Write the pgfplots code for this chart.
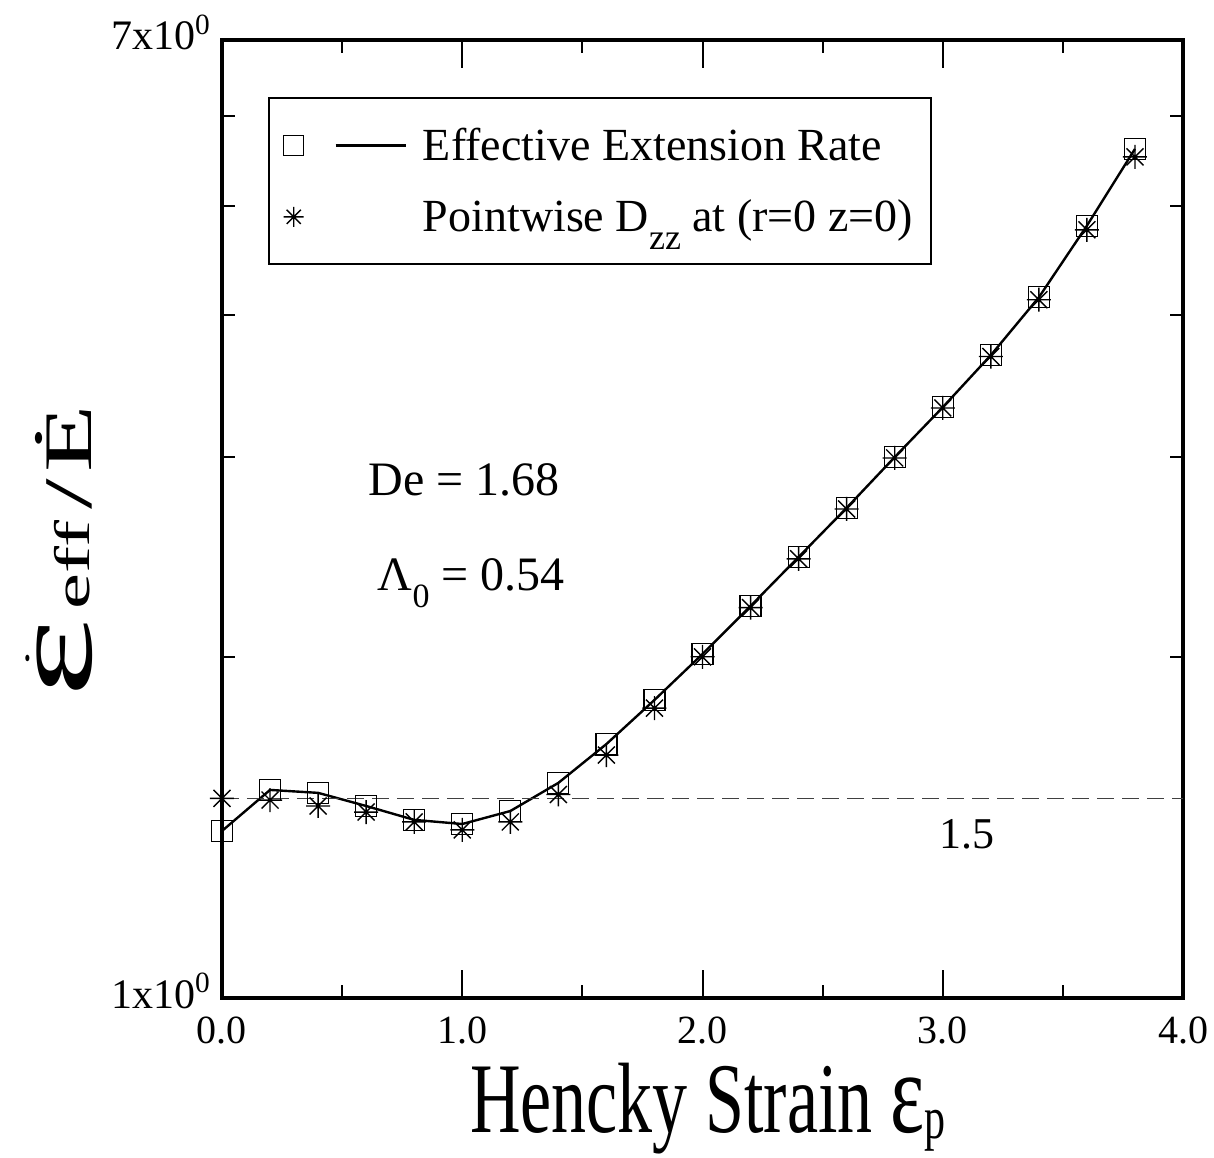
\documentclass[border=0pt]{standalone}
\usepackage{fontspec}
\setmainfont{Liberation Serif}
\usepackage{graphicx}
\usepackage{pgfplots}
\usepackage{pgfplotstable}
\pgfplotsset{compat=1.18}

\pgfdeclareplotmark{star8}{%
  \pgfpathmoveto{\pgfqpoint{0pt}{\pgfplotmarksize}}\pgfpathlineto{\pgfqpoint{0pt}{-\pgfplotmarksize}}%
  \pgfpathmoveto{\pgfqpoint{\pgfplotmarksize}{0pt}}\pgfpathlineto{\pgfqpoint{-\pgfplotmarksize}{0pt}}%
  \pgfpathmoveto{\pgfqpoint{.7071\pgfplotmarksize}{.7071\pgfplotmarksize}}\pgfpathlineto{\pgfqpoint{-.7071\pgfplotmarksize}{-.7071\pgfplotmarksize}}%
  \pgfpathmoveto{\pgfqpoint{-.7071\pgfplotmarksize}{.7071\pgfplotmarksize}}\pgfpathlineto{\pgfqpoint{.7071\pgfplotmarksize}{-.7071\pgfplotmarksize}}%
  \pgfusepathqstroke}

\pgfplotstableread{
x y
0.0 1.404
0.2 1.526
0.4 1.517
0.6 1.477
0.8 1.436
1.0 1.424
1.2 1.462
1.4 1.548
1.6 1.675
1.8 1.832
2.0 2.011
2.2 2.217
2.4 2.449
2.6 2.706
2.8 3.000
3.0 3.320
3.2 3.690
3.4 4.150
3.6 4.800
3.8 5.610
}\effdata

\pgfplotstableread{
x y
0.0 1.500
0.2 1.495
0.4 1.477
0.6 1.459
0.8 1.430
1.0 1.407
1.2 1.430
1.4 1.512
1.6 1.638
1.8 1.802
2.0 2.000
2.2 2.210
2.4 2.440
2.6 2.700
2.8 2.995
3.0 3.315
3.2 3.680
3.4 4.130
3.6 4.760
3.8 5.520
}\dzzdata

\newcommand{\ylab}{\scalebox{1.62}[1]{%
  {\fontsize{58}{60}\selectfont$\dot{\hbox{ε}}$}\hspace{3pt}%
  \raisebox{1pt}{\fontsize{25}{26}\selectfont eff}\hspace{3.5pt}%
  {\fontsize{34}{40}\selectfont /\hspace{2pt}\.{E}}}}

\begin{document}
\begin{tikzpicture}
\begin{axis}[
  name=ax,
  width=480.5pt, height=479pt, scale only axis,
  xmin=0, xmax=4,
  ymode=log, ymin=1, ymax=7,
  axis line style={line width=2pt},
  xtick={0,1,2,3,4},
  xticklabels={0.0,1.0,2.0,3.0,4.0},
  minor xtick={0.5,1.5,2.5,3.5},
  ytick={1,7},
  yticklabels={1x10\textsuperscript{0},7x10\textsuperscript{0}},
  minor ytick={2,3,4,5,6},
  tick align=inside,
  xtick pos=both, ytick pos=both,
  major tick length=14pt, minor tick length=6.5pt,
  tick style={line width=1pt, black},
  ticklabel style={font=\fontsize{20}{22}\selectfont},
  xticklabel style={yshift=-6pt},
  yticklabel style={anchor=base east, yshift=-5pt, xshift=-2pt, font=\fontsize{21}{22}\selectfont},
  /pgf/number format/assume math mode=true,
  xlabel={\scalebox{0.7}[1]{\fontsize{50}{56}\selectfont Hencky Strain {\fontsize{58}{56}\selectfont ε}\raisebox{-3pt}{\fontsize{30}{30}\selectfont p}}},
  xlabel style={at={(axis description cs:0.251,-0.14)}, anchor=base west},
  ylabel={\ylab},
  ylabel style={at={(axis description cs:-0.169,0.466)}, anchor=center},
  legend style={at={(axis description cs:0.048,0.9405)}, anchor=north west,
    draw=black, line width=1pt, font=\fontsize{23}{26}\selectfont,
    inner xsep=7pt, inner ysep=13pt, row sep=14pt, column sep=6pt},
  legend cell align=left,
]
\addplot[black, sharp plot, line width=1.2pt, mark=square, mark size=5.25pt,
  mark options={line width=0.6pt, solid, fill=none},
  legend image code/.code={%
    \draw[line width=0.6pt] (0.3cm-5pt,-5pt) rectangle ++(10pt,10pt);
    \draw[line width=1.2pt] (0.3cm+21pt,0pt) -- (0.3cm+56pt,0pt);}]
  table[x=x,y=y]{\effdata};
\addlegendentry{Effective Extension Rate}
\addplot[only marks, black, mark=star8, mark size=6pt, mark options={line width=0.7pt},
  legend image code/.code={%
    \draw[mark=star8, mark size=5pt, line width=0.6pt] plot coordinates {(0.3cm,0cm)};}]
  table[x=x,y=y]{\dzzdata};
\addlegendentry{Pointwise D\raisebox{-0.4em}{\fontsize{18}{18}\selectfont zz} at (r=0 z=0)}
\addplot[black!75, line width=0.7pt, dash pattern=on 8.5pt off 4pt, forget plot]
  coordinates {(0,1.5) (4,1.5)};
\node[font=\fontsize{24}{26}\selectfont] at (axis cs:1.008,2.864) {De = 1.68};
\node[font=\fontsize{24}{26}\selectfont] at (axis cs:1.037,2.323) {Λ\raisebox{-0.35em}{\fontsize{17}{17}\selectfont 0} = 0.54};
\node[font=\fontsize{22}{26}\selectfont] at (axis cs:3.1,1.395) {1.5};
\end{axis}
\pgfresetboundingbox
\useasboundingbox (ax.south west) ++(-111pt,-79.5pt) rectangle ++(607pt,578.5pt);
\end{tikzpicture}
\end{document}
